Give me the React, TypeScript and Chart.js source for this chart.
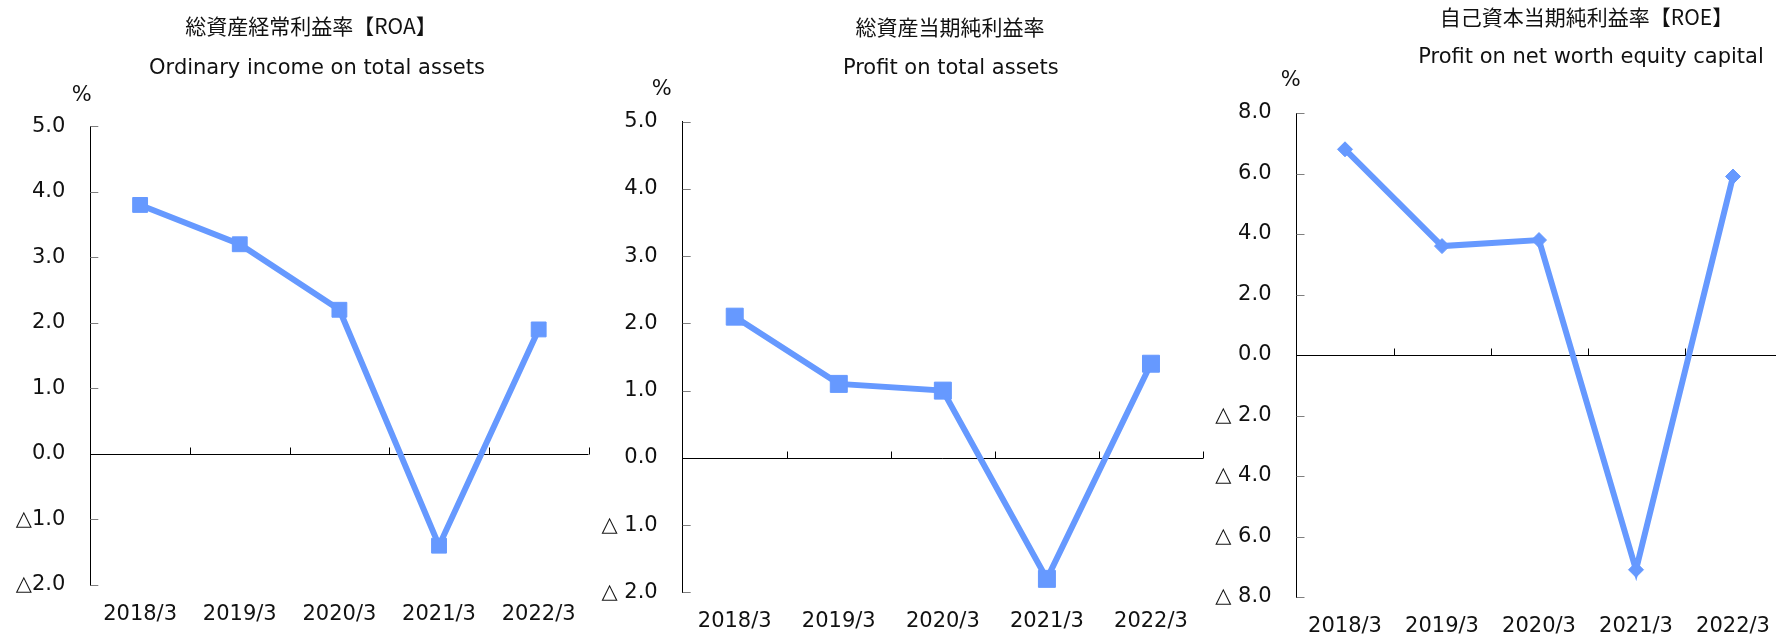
import React, { useEffect, useRef } from 'react';
import { Chart, registerables } from 'chart.js';

Chart.register(...registerables);

const categories = ['2018/3', '2019/3', '2020/3', '2021/3', '2022/3'];
const roaValues = [3.8, 3.2, 2.2, -1.4, 1.9];
const profitValues = [2.1, 1.1, 1.0, -1.8, 1.4];
const roeValues = [6.8, 3.6, 3.8, -7.1, 5.9];

const roaTitles = ['総資産経常利益率【ROA】', 'Ordinary income on total assets'];
const profitTitles = ['総資産当期純利益率', 'Profit on total assets'];
const roeTitles = ['自己資本当期純利益率【ROE】', 'Profit on net worth equity capital'];

const LINE_COLOR = '#6699FF';
const TEXT_COLOR = '#111111';
const LATIN_FONT = '"DejaVu Sans", Verdana, sans-serif';
const CJK_FONT = '"Noto Sans CJK JP", "DejaVu Sans", sans-serif';

const axisDecor = {
  id: 'axisDecor',
  beforeDatasetsDraw(chart: any) {
    const { ctx, chartArea, scales } = chart;
    const x = scales.x;
    const y = scales.y;
    const y0 = Math.round(y.getPixelForValue(0)) + 0.5;
    ctx.save();
    ctx.lineWidth = 1;
    ctx.strokeStyle = '#7f7f7f';
    ctx.beginPath();
    y.ticks.forEach((t: any) => {
      if (t.value === 0) return;
      const py = Math.round(y.getPixelForValue(t.value)) + 0.5;
      ctx.moveTo(chartArea.left, py);
      ctx.lineTo(chartArea.left + 8, py);
    });
    ctx.stroke();
    ctx.strokeStyle = '#000000';
    ctx.beginPath();
    ctx.moveTo(chartArea.left, y0);
    ctx.lineTo(chartArea.right, y0);
    for (let i = 1; i <= x.ticks.length; i++) {
      const px = Math.round(x.getPixelForValue(i - 0.5)) + 0.5;
      ctx.moveTo(px, y0);
      ctx.lineTo(px, y0 - 7);
    }
    ctx.stroke();
    ctx.restore();
  },
};

const header = {
  id: 'header',
  afterDraw(chart: any, _args: any, o: any) {
    const ctx = chart.ctx;
    ctx.save();
    ctx.fillStyle = TEXT_COLOR;
    ctx.textAlign = 'center';
    ctx.textBaseline = 'middle';
    ctx.font = `21px ${CJK_FONT}`;
    ctx.fillText(o.jp, o.jpX, o.jpY);
    ctx.font = `21px ${LATIN_FONT}`;
    ctx.fillText(o.en, o.enX, o.enY);
    ctx.fillText('%', o.pctX, o.pctY);
    ctx.restore();
  },
};

type PanelProps = {
  left: number;
  width: number;
  values: number[];
  titles: string[];
  min: number;
  max: number;
  step: number;
  negSep: string;
  yAxisWidth: number;
  padRight: number;
  padTop: number;
  chartBottom: number;
  pointStyle: string;
  pointRadius: number;
  jpPos: number[];
  enPos: number[];
  pctPos: number[];
};

const HEIGHT = 638;

function Panel(p: PanelProps) {
  const ref = useRef<HTMLCanvasElement | null>(null);
  useEffect(() => {
    if (!ref.current) return;
    const xAxisHeight = HEIGHT - p.chartBottom;
    const chart = new Chart(ref.current, {
      type: 'line',
      data: {
        labels: categories,
        datasets: [
          {
            data: p.values,
            borderColor: LINE_COLOR,
            backgroundColor: LINE_COLOR,
            borderWidth: 6,
            pointStyle: p.pointStyle as any,
            pointRadius: p.pointRadius,
            pointHoverRadius: p.pointRadius,
            pointBorderWidth: 1,
            pointBorderColor: LINE_COLOR,
            pointBackgroundColor: LINE_COLOR,
            tension: 0,
            clip: false as any,
          },
        ],
      },
      options: {
        responsive: false,
        animation: false,
        devicePixelRatio: 1,
        layout: {
          padding: {
            left: 0,
            right: p.padRight,
            top: p.padTop,
            bottom: 0,
          },
        },
        plugins: {
          legend: { display: false },
          tooltip: { enabled: false },
          header: {
            jp: p.titles[0],
            en: p.titles[1],
            jpX: p.jpPos[0],
            jpY: p.jpPos[1],
            enX: p.enPos[0],
            enY: p.enPos[1],
            pctX: p.pctPos[0],
            pctY: p.pctPos[1],
          },
        } as any,
        scales: {
          x: {
            type: 'category',
            offset: true,
            grid: { display: false, drawTicks: false, tickLength: 0 },
            border: { display: false },
            ticks: {
              color: TEXT_COLOR,
              font: { family: LATIN_FONT, size: 21 },
              padding: 17,
              maxRotation: 0,
              autoSkip: false,
            },
            afterFit: (s: any) => {
              s.height = xAxisHeight;
            },
          },
          y: {
            min: p.min,
            max: p.max,
            grid: { display: false, drawTicks: false, tickLength: 0 },
            border: { display: true, color: '#000000', width: 1 },
            ticks: {
              stepSize: p.step,
              color: TEXT_COLOR,
              font: { family: LATIN_FONT, size: 21 },
              padding: 25,
              callback: (v: any) => {
                const n = Number(v);
                if (n < 0) return '△' + p.negSep + Math.abs(n).toFixed(1);
                return n.toFixed(1);
              },
            },
            afterFit: (s: any) => {
              s.width = p.yAxisWidth;
            },
          },
        },
      },
      plugins: [axisDecor, header],
    });
    return () => chart.destroy();
  }, []);
  return (
    <canvas
      ref={ref}
      width={p.width}
      height={HEIGHT}
      style={{ position: 'absolute', left: p.left, top: 0, width: p.width, height: HEIGHT }}
    />
  );
}

export default function App() {
  return (
    <div
      style={{
        position: 'absolute',
        left: 0,
        top: 0,
        width: 1776,
        height: 638,
        overflow: 'hidden',
        background: '#ffffff',
      }}
    >
      <Panel
        left={0}
        width={600}
        values={roaValues}
        titles={roaTitles}
        min={-2}
        max={5}
        step={1}
        negSep=""
        yAxisWidth={90.3}
        padRight={6.7}
        padTop={126.3}
        chartBottom={585}
        pointStyle="rect"
        pointRadius={10.5}
        jpPos={[311, 26]}
        enPos={[317, 69]}
        pctPos={[81.7, 96]}
      />
      <Panel
        left={590}
        width={626}
        values={profitValues}
        titles={profitTitles}
        min={-2}
        max={5}
        step={1}
        negSep=" "
        yAxisWidth={92.7}
        padRight={6}
        padTop={121.7}
        chartBottom={592.3}
        pointStyle="rect"
        pointRadius={12}
        jpPos={[360, 26.7]}
        enPos={[360.8, 68.3]}
        pctPos={[71.7, 89.3]}
      />
      <Panel
        left={1205}
        width={585}
        values={roeValues}
        titles={roeTitles}
        min={-8}
        max={8}
        step={2}
        negSep=" "
        yAxisWidth={91.5}
        padRight={7.5}
        padTop={113}
        chartBottom={597}
        pointStyle="rectRot"
        pointRadius={7.5}
        jpPos={[381.5, 16.7]}
        enPos={[386, 57.3]}
        pctPos={[85.7, 80.7]}
      />
    </div>
  );
}
